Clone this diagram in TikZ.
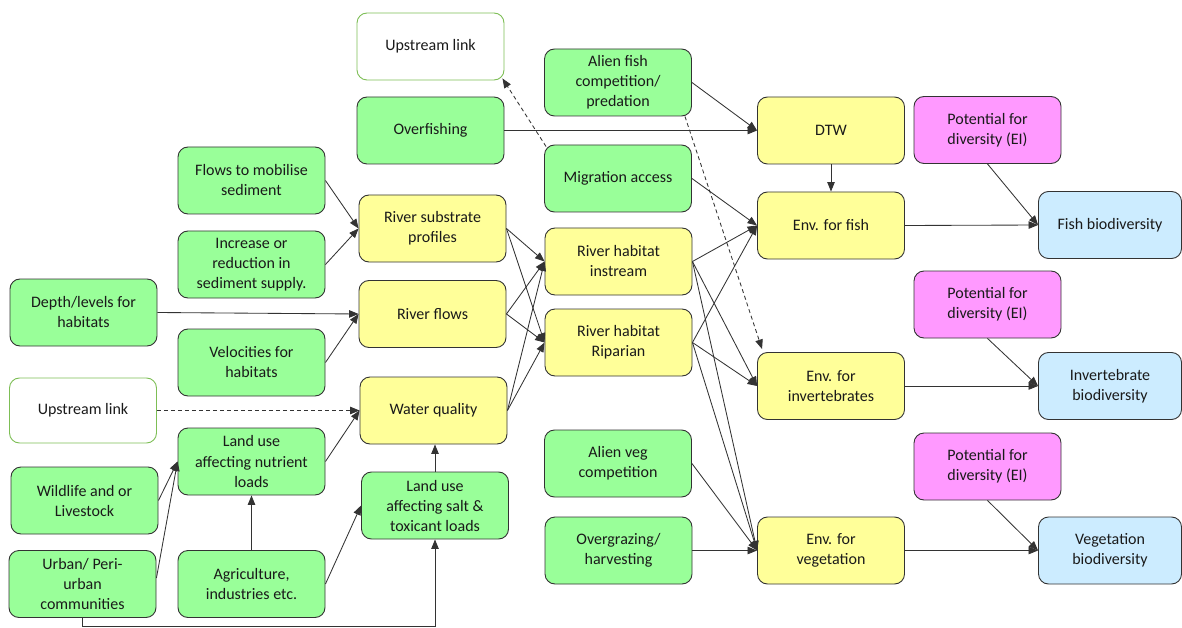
\documentclass[tikz,border=0pt]{standalone}
\usepackage{fontspec}
\setmainfont{Carlito}
\usetikzlibrary{arrows.meta,calc}
\definecolor{gfill}{HTML}{99FF99}
\definecolor{yfill}{HTML}{FFFF99}
\definecolor{pfill}{HTML}{FF99FF}
\definecolor{bfill}{HTML}{CCECFF}
\definecolor{linkedge}{HTML}{7DBE55}
\definecolor{edgegray}{HTML}{333333}
\definecolor{txt}{HTML}{1A1A1A}
\tikzset{
  box/.style={draw=edgegray, line width=0.9pt, rounded corners=10pt, align=center,
    minimum width=147pt, minimum height=67pt, inner sep=2pt, text=txt,
    font=\fontsize{16}{20}\selectfont},
  gbox/.style={box, fill=gfill},
  ybox/.style={box, fill=yfill},
  pbox/.style={box, fill=pfill},
  bbox/.style={box, fill=bfill, minimum width=143pt},
  linkbox/.style={box, draw=linkedge, fill=white},
  arr/.style={draw=edgegray, line width=0.85pt, -{Triangle[length=9.5pt,width=7.5pt]}},
  darr/.style={arr, dashed, dash pattern=on 4pt off 3pt},
}
\begin{document}
\begin{tikzpicture}[x=1pt,y=-1pt]
\useasboundingbox (0,0) rectangle (1182,628);

% left column
\node[gbox] (depth) at (83.5,312.5) {Depth/levels for\\habitats};
\node[linkbox, minimum height=65pt] (upL) at (83,410.5) {Upstream link};
\node[gbox] (wild) at (84.5,500.5) {Wildlife and or\\Livestock};
\node[gbox] (urban) at (82.5,584) {Urban/ Peri-\\urban\\communities};

% second column
\node[gbox] (flows) at (251.5,180.5) {Flows to mobilise\\sediment};
\node[gbox] (incr) at (251.5,264.5) {Increase or\\reduction in\\sediment supply.};
\node[gbox] (vel) at (251.5,362.5) {Velocities for\\habitats};
\node[gbox] (nutr) at (251.5,461.5) {Land use\\affecting nutrient\\loads};
\node[gbox] (agri) at (251.5,584) {Agriculture,\\industries etc.};

% third column
\node[linkbox] (upT) at (430.5,46.5) {Upstream link};
\node[gbox] (overf) at (430.5,130.5) {Overfishing};
\node[ybox] (subst) at (432.5,228.5) {River substrate\\profiles};
\node[ybox] (rflow) at (432.5,314) {River flows};
\node[ybox] (wq) at (433.5,410.5) {Water quality};
\node[gbox] (salt) at (435,505.5) {Land use\\affecting salt \&\\toxicant loads};

% fourth column
\node[gbox] (alienf) at (618,82.5) {Alien fish\\competition/\\predation};
\node[gbox] (migr) at (618,178.5) {Migration access};
\node[ybox] (instr) at (618.5,261.5) {River habitat\\instream};
\node[ybox] (ripar) at (618.5,342.5) {River habitat\\Riparian};
\node[gbox] (alienv) at (618,463.5) {Alien veg\\competition};
\node[gbox] (overg) at (618.5,550.5) {Overgrazing/\\harvesting};

% environment column
\node[ybox] (dtw) at (831,130.5) {DTW};
\node[ybox] (envf) at (831,225.5) {Env. for fish};
\node[ybox] (envi) at (831,386) {Env. for\\invertebrates};
\node[ybox] (envv) at (831,550.5) {Env. for\\vegetation};

% biodiversity
\node[pbox] (pot1) at (987.5,130) {Potential for\\diversity (EI)};
\node[pbox] (pot2) at (987.5,304.5) {Potential for\\diversity (EI)};
\node[pbox] (pot3) at (987.5,466.5) {Potential for\\diversity (EI)};
\node[bbox] (fishb) at (1110,225) {Fish biodiversity};
\node[bbox] (invb) at (1110,386) {Invertebrate\\biodiversity};
\node[bbox] (vegb) at (1110,550.5) {Vegetation\\biodiversity};

\coordinate (bot) at (0,626.8);

% drivers into the river state boxes
\draw[arr] (flows.east) -- (subst.west);
\draw[arr] (incr.east) -- (subst.west);
\draw[arr] (depth.east) -- (rflow.west);
\draw[arr] (vel.east) -- (rflow.west);
\draw[darr] (upL.east) -- (wq.west);
\draw[arr] (nutr.east) -- (wq.west);
\draw[arr] (salt.north) -- (salt.north |- wq.south);
\draw[arr] (agri.north) -- (nutr.south);
\draw[arr] (agri.east) -- (salt.west);
\draw[arr] (wild.east) -- (nutr.west);
\draw[arr] ($(urban.east)+(0,-6)$) -- (nutr.west);
\draw[arr] (urban.south) -- (urban.south |- bot) -| (salt.south);

% river state into habitats
\foreach \s in {subst,rflow,wq}{
  \draw[arr] (\s.east) -- (instr.west);
  \draw[arr] (\s.east) -- (ripar.west);
}

% fish pressures
\draw[darr] ($(migr.north west)+(2,2)$) -- ($(upT.south east)+(-2,-2)$);
\draw[arr] (alienf.east) -- (dtw.west);
\draw[arr] (overf.east) -- (dtw.west);
\draw[darr] ($(alienf.south east)+(-7,0)$) -- ($(envi.north west)+(5,-3)$);
\draw[arr] (dtw.south) -- (envf.north);
\draw[arr] (migr.east) -- (envf.west);

% habitats into environments
\foreach \s in {instr,ripar}{
  \draw[arr] (\s.east) -- (envf.west);
  \draw[arr] (\s.east) -- (envi.west);
  \draw[arr] (\s.east) -- (envv.west);
}
\draw[arr] (alienv.east) -- (envv.west);
\draw[arr] (overg.east) -- (envv.west);

% environments into biodiversity
\draw[arr] (envf.east) -- (fishb.west);
\draw[arr] (pot1.south) -- (fishb.west);
\draw[arr] (envi.east) -- (invb.west);
\draw[arr] (pot2.south) -- (invb.west);
\draw[arr] (envv.east) -- (vegb.west);
\draw[arr] (pot3.south) -- (vegb.west);
\end{tikzpicture}
\end{document}
